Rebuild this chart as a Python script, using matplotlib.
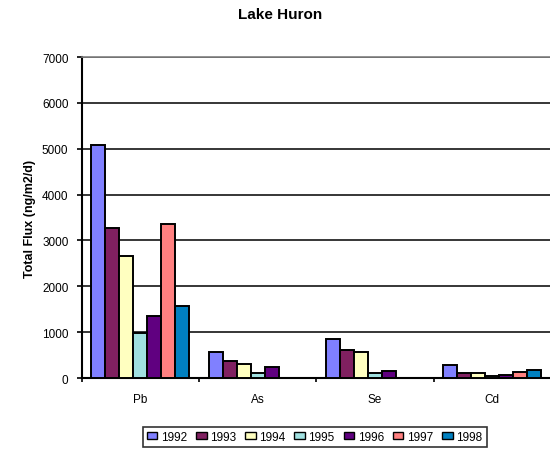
import numpy as np
import matplotlib.pyplot as plt

plt.rcParams['font.family'] = ['Liberation Sans', 'DejaVu Sans']

metals = ['Pb', 'As', 'Se', 'Cd']
years = ['1992', '1993', '1994', '1995', '1996', '1997', '1998']
flux = {
    '1992': [5090, 560, 850, 285],
    '1993': [3265, 380, 600, 110],
    '1994': [2670, 300, 560, 110],
    '1995': [980, 110, 110, 45],
    '1996': [1360, 235, 155, 65],
    '1997': [3370, 0, 0, 130],
    '1998': [1580, 0, 0, 165],
}
colors = ['#8080FF', '#802060', '#FFFFC0', '#A0E0E0', '#600080', '#FF8080', '#0080C0']

fig = plt.figure(figsize=(5.5, 4.52), dpi=100)
ax = fig.add_axes([0.1485, 0.1615, 0.853, 0.71])

x = np.arange(len(metals))
w = 0.119
for i, yr in enumerate(years):
    ax.bar(x - 3 * w + i * w, flux[yr], width=w, color=colors[i],
           edgecolor='black', linewidth=1.4, label=yr, zorder=3)

ax.set_xlim(-0.5, 3.5)
ax.set_ylim(0, 7000)
ax.set_yticks(range(0, 7001, 1000))
ax.yaxis.grid(True, color='black', linewidth=1.1, zorder=0)
ax.set_xticks(x)
ax.set_xticklabels(metals, fontsize=8.5)
ax.set_xticks(np.arange(-0.5, 3.5, 1), minor=True)
ax.tick_params(axis='x', which='major', length=0, pad=11)
ax.tick_params(axis='x', which='minor', length=3, width=1.2, direction='out')
ax.tick_params(axis='y', labelsize=8.5, length=3.5, width=1.2, pad=6)

for s in ['left', 'bottom']:
    ax.spines[s].set_linewidth(1.5)
ax.spines['right'].set_visible(False)
ax.spines['top'].set_color('#808080')
ax.spines['top'].set_linewidth(1.2)

ax.set_ylabel('Total Flux (ng/m2/d)', fontsize=9, fontweight='bold', labelpad=4)
fig.suptitle('Lake Huron', x=0.51, y=0.982, fontsize=11, fontweight='bold')

leg = fig.legend(loc='lower center', bbox_to_anchor=(0.572, -0.004), ncol=7,
                 fontsize=8.5, frameon=True, fancybox=False, edgecolor='black',
                 handlelength=0.9, handleheight=0.6, handletextpad=0.3,
                 columnspacing=0.75, borderpad=0.35)
leg.get_frame().set_linewidth(1.2)
for h in leg.legend_handles:
    h.set_linewidth(1.0)

fig.savefig('out.png', dpi=100)
